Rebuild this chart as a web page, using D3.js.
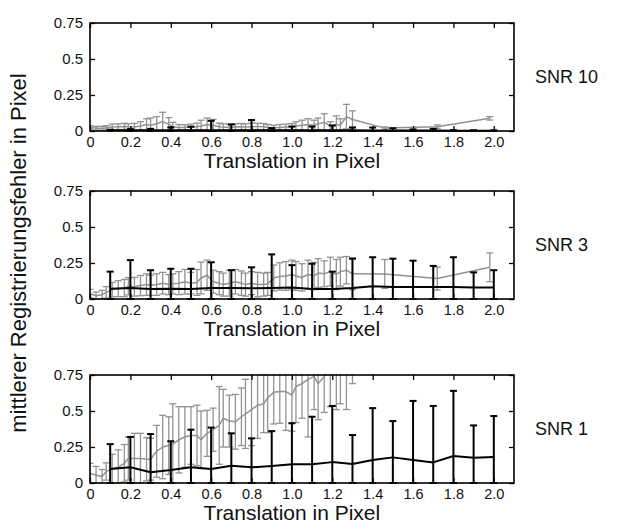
<!DOCTYPE html>
<html lang="de">
<head>
<meta charset="UTF-8">
<script src="https://cdnjs.cloudflare.com/ajax/libs/d3/7.8.5/d3.min.js"></script>
<style>
  body { margin: 0; background: #fff; }
  svg text { font-family: "Liberation Sans", Arial, Helvetica, sans-serif; fill: #111; }
  .axis path { display: none; }
  .axis line { stroke: #000; stroke-width: 1.3; }
  .axis text { font-size: 15px; font-family: "Liberation Sans", Arial, sans-serif; }
  .xaxis text { font-size: 14.5px; }
  .frame { fill: none; stroke: #000; stroke-width: 1.6; }
  .xtitle { font-size: 21px; }
  .ytitle { font-size: 22px; }
  .snr { font-size: 18px; }
</style>
</head>
<body>
<svg width="617" height="524"></svg>
<script>
// translations (x) of the two series
var grayX = [0.00, 0.03, 0.06, 0.08, 0.11, 0.14, 0.17, 0.19, 0.22, 0.25, 0.28, 0.30,
             0.33, 0.36, 0.39, 0.41, 0.44, 0.47, 0.50, 0.53, 0.55, 0.58, 0.61, 0.64,
             0.66, 0.69, 0.72, 0.75, 0.77, 0.80, 0.83, 0.86, 0.88, 0.91, 0.94, 0.97,
             1.00, 1.02, 1.05, 1.08, 1.11, 1.13, 1.16, 1.19, 1.22, 1.24, 1.27, 1.30,
             1.46, 1.72, 1.98];
var blackX = [0.1, 0.2, 0.3, 0.4, 0.5, 0.6, 0.7, 0.8, 0.9, 1.0,
              1.1, 1.2, 1.3, 1.4, 1.5, 1.6, 1.7, 1.8, 1.9, 2.0];

// SNR 10
var gray10Mean = [.025, .020, .018, .022, .028, .030, .032, .030, .028, .035, .045, .040,
                  .050, .065, .048, .030, .025, .025, .028, .030, .035, .045, .040, .030,
                  .028, .025, .028, .030, .028, .030, .032, .030, .025, .022, .025, .028,
                  .030, .035, .040, .045, .040, .050, .060, .035, .045, .040, .100, .080,
                  .020, .030, .088];
var gray10Err = [.012, .012, .014, .015, .020, .020, .022, .020, .025, .030, .040, .050,
                 .050, .065, .045, .030, .020, .018, .020, .025, .040, .045, .040, .025,
                 .022, .020, .022, .022, .022, .025, .022, .022, .020, .018, .020, .020,
                 .022, .030, .035, .040, .035, .040, .060, .030, .060, .045, .085, .060,
                 .008, .012, .012];
var black10Mean = [.005, .005, .005, .005, .005, .006, .006, .006, .005, .006,
                   .006, .006, .005, .004, .004, .003, .003, .002, .002, .002];
var black10Err = [.004, .008, .010, .020, .025, .065, .040, .070, .015, .025,
                  .025, .032, .020, .020, .015, .008, .012, .004, .003, .003];

// SNR 3
var gray3Mean = [.037, .023, .030, .046, .065, .072, .076, .088, .085, .093, .100, .095,
                 .100, .110, .100, .105, .110, .120, .110, .115, .146, .165, .120, .110,
                 .100, .110, .120, .110, .100, .110, .100, .100, .105, .146, .157, .160,
                 .170, .160, .150, .170, .160, .180, .175, .190, .170, .190, .200, .175,
                 .174, .142, .220];
var gray3Err = [.030, .025, .030, .040, .050, .055, .060, .060, .065, .070, .075, .070,
                .075, .075, .070, .070, .080, .085, .075, .090, .110, .105, .080, .080,
                .080, .090, .085, .085, .080, .080, .085, .080, .080, .090, .095, .100,
                .100, .100, .095, .100, .095, .100, .090, .100, .105, .100, .095, .110,
                .100, .080, .100];
var black3Mean = [.072, .076, .069, .072, .069, .076, .076, .074, .076, .080,
                  .070, .070, .076, .088, .083, .083, .083, .083, .080, .079];
var black3Err = [.118, .194, .131, .138, .141, .179, .124, .146, .234, .155,
                 .175, .120, .204, .202, .197, .183, .147, .207, .105, .121];

// SNR 1
var gray1Mean = [.067, .055, .044, .080, .100, .110, .137, .170, .170, .170, .165, .165,
                 .220, .250, .260, .270, .300, .320, .330, .330, .300, .345, .370, .400,
                 .450, .430, .425, .460, .480, .510, .540, .550, .590, .630, .635, .635,
                 .610, .670, .690, .720, .740, .690, .740, .800, .780, .830, .800, .950,
                 1.00, 1.05, 1.10];
var gray1Err = [.070, .060, .050, .060, .100, .120, .130, .150, .175, .175, .150, .145,
                .180, .220, .200, .280, .230, .210, .200, .210, .200, .160, .150, .270,
                .200, .180, .190, .200, .240, .250, .230, .200, .240, .220, .220, .270,
                .250, .250, .240, .400, .230, .250, .250, .270, .270, .280, .290, .260,
                .150, .200, .200];
var black1Mean = [.097, .109, .074, .090, .109, .097, .120, .109, .118, .130,
                  .130, .145, .132, .160, .178, .160, .143, .188, .176, .180];
var black1Err = [.173, .211, .266, .200, .261, .288, .225, .201, .242, .285,
                 .330, .390, .201, .360, .252, .410, .392, .452, .224, .285];

var panelNames = ["SNR 10", "SNR 3", "SNR 1"];
var xTicks = [0, 0.2, 0.4, 0.6, 0.8, 1.0, 1.2, 1.4, 1.6, 1.8, 2.0];
var xTickLabels = ["0", "0.2", "0.4", "0.6", "0.8", "1.0", "1.2", "1.4", "1.6", "1.8", "2.0"];
var yTicks = [0, 0.25, 0.5, 0.75];
var yTickLabels = ["0", "0.25", "0.5", "0.75"];

var panels = [
  {name: panelNames[0], gm: gray10Mean, ge: gray10Err, bm: black10Mean, be: black10Err},
  {name: panelNames[1], gm: gray3Mean, ge: gray3Err, bm: black3Mean, be: black3Err},
  {name: panelNames[2], gm: gray1Mean, ge: gray1Err, bm: black1Mean, be: black1Err}
];

var svg = d3.select("svg");
var defs = svg.append("defs");
var panelTop = [23, 191, 375], ph = 108;
var x = d3.scaleLinear().domain([0, 2.1]).range([90, 514]);

function drawSeries(g, xs, means, errs, y, col, lw, bw, cap) {
  var pts = xs.map(function(v, i) {
    return {x: v, m: means[i], lo: Math.max(0, means[i] - errs[i]), hi: means[i] + errs[i]};
  });
  var eb = g.append("g");
  pts.forEach(function(d) {
    var px = x(d.x);
    eb.append("line").attr("x1", px).attr("x2", px)
      .attr("y1", y(d.lo)).attr("y2", y(d.hi))
      .attr("stroke", col).attr("stroke-width", bw);
    [d.lo, d.hi].forEach(function(v) {
      eb.append("line").attr("x1", px - cap).attr("x2", px + cap)
        .attr("y1", y(v)).attr("y2", y(v))
        .attr("stroke", col).attr("stroke-width", bw);
    });
  });
  var line = d3.line().x(function(d) { return x(d.x); }).y(function(d) { return y(d.m); });
  g.append("path").datum(pts).attr("d", line)
    .attr("fill", "none").attr("stroke", col).attr("stroke-width", lw)
    .attr("stroke-linejoin", "round");
}

panels.forEach(function(p, i) {
  var top = panelTop[i];
  var y = d3.scaleLinear().domain([0, 0.75]).range([top + ph, top]);

  defs.append("clipPath").attr("id", "clip" + i)
    .append("rect").attr("x", x(0)).attr("y", top - 1)
    .attr("width", x(2.1) - x(0)).attr("height", ph + 2);

  var g = svg.append("g").attr("clip-path", "url(#clip" + i + ")");
  drawSeries(g, grayX, p.gm, p.ge, y, "#929292", 1.5, 1.3, 3.5);
  drawSeries(g, blackX, p.bm, p.be, y, "#000", 2, 2, 3.5);

  svg.append("g").attr("class", "axis xaxis")
    .attr("transform", "translate(0," + (top + ph) + ")")
    .call(d3.axisBottom(x).tickValues(xTicks).tickSize(-5).tickPadding(6)
      .tickFormat(function(d, k) { return xTickLabels[k]; }));
  svg.append("g").attr("class", "axis")
    .attr("transform", "translate(0," + top + ")")
    .call(d3.axisTop(x).tickValues(xTicks).tickSize(-5).tickFormat(""));
  svg.append("g").attr("class", "axis")
    .attr("transform", "translate(" + x(0) + ",0)")
    .call(d3.axisLeft(y).tickValues(yTicks).tickSize(-5).tickPadding(7)
      .tickFormat(function(d, k) { return yTickLabels[k]; }));
  svg.append("g").attr("class", "axis")
    .attr("transform", "translate(" + x(2.1) + ",0)")
    .call(d3.axisRight(y).tickValues(yTicks).tickSize(-5).tickFormat(""));

  svg.append("rect").attr("class", "frame")
    .attr("x", x(0)).attr("y", top)
    .attr("width", x(2.1) - x(0)).attr("height", ph);

  svg.append("text").attr("class", "xtitle")
    .attr("x", (x(0) + x(2.0)) / 2).attr("y", top + ph + 37)
    .attr("text-anchor", "middle").text("Translation in Pixel");

  svg.append("text").attr("class", "snr")
    .attr("x", 535).attr("y", top + ph / 2 + 6).text(p.name);
});

svg.append("text").attr("class", "ytitle")
  .attr("transform", "translate(26,253) rotate(-90)")
  .attr("text-anchor", "middle")
  .text("mittlerer Registrierungsfehler in Pixel");
</script>
</body>
</html>
